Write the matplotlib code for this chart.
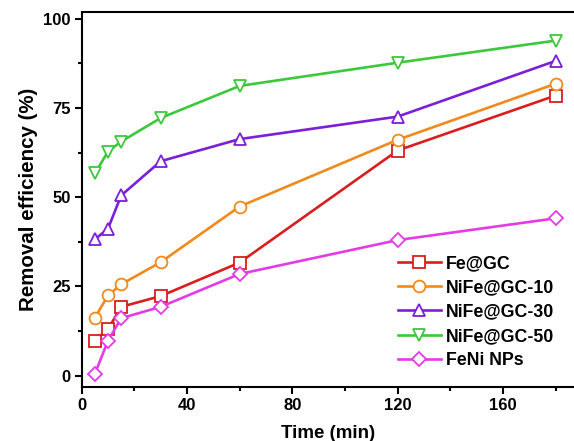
import matplotlib
matplotlib.use('Agg')
import matplotlib.pyplot as plt
from matplotlib.ticker import MultipleLocator

plt.rcParams['font.family'] = ['Liberation Sans', 'DejaVu Sans']
plt.rcParams['font.weight'] = 'bold'

# Removal efficiency (%) versus contact time (min)
time_min = [5, 10, 15, 30, 60, 120, 180]
fe_gc = [9.8, 13.0, 19.3, 22.3, 31.7, 63.1, 78.5]
nife_gc10 = [16.2, 22.5, 25.6, 31.8, 47.4, 66.1, 81.8]
nife_gc30 = [38.2, 41.2, 50.5, 60.1, 66.3, 72.6, 88.2]
nife_gc50 = [56.7, 62.8, 65.6, 72.2, 81.2, 87.7, 93.9]
feni_nps = [0.5, 9.8, 16.1, 19.3, 28.5, 38.0, 44.1]

series = [
    ('Fe@GC', fe_gc, '#d81e1e', 's', 8),
    ('NiFe@GC-10', nife_gc10, '#f08a1c', 'o', 8.5),
    ('NiFe@GC-30', nife_gc30, '#7b1fd8', '^', 9),
    ('NiFe@GC-50', nife_gc50, '#3cc83c', 'v', 9),
    ('FeNi NPs', feni_nps, '#e43ce4', 'D', 7.5),
]

fig = plt.figure(figsize=(5.74, 4.41), dpi=100)
# right edge of the frame runs off the figure
ax = fig.add_axes([0.1423, 0.123, 0.8577, 0.8505])

for label, vals, color, marker, ms in series:
    ax.plot(time_min, vals, color=color, lw=1.9, marker=marker, ms=ms,
            mfc='white', mec=color, mew=1.3, label=label)

ax.set_xlim(0, 187)
ax.set_ylim(-3.1, 102)
ax.xaxis.set_major_locator(MultipleLocator(40))
ax.xaxis.set_minor_locator(MultipleLocator(20))
ax.yaxis.set_major_locator(MultipleLocator(25))
ax.yaxis.set_minor_locator(MultipleLocator(12.5))
ax.tick_params(which='major', direction='out', length=5, width=1.5, labelsize=12, pad=3)
ax.tick_params(which='minor', direction='out', length=3, width=1.5)
ax.spines['right'].set_visible(False)
for sp in ax.spines.values():
    sp.set_linewidth(1.5)

ax.set_xlabel('Time (min)', fontsize=13.5, fontweight='bold', labelpad=9)
ax.set_ylabel('Removal efficiency (%)', fontsize=14.8, fontweight='bold', labelpad=4)

ax.legend(loc='upper left', bbox_to_anchor=(0.6425, 0.35), frameon=False,
          fontsize=12.8, handlelength=2.4, handletextpad=0.3, labelspacing=0.4,
          borderaxespad=0, borderpad=0)

fig.savefig('out.png', dpi=100)
